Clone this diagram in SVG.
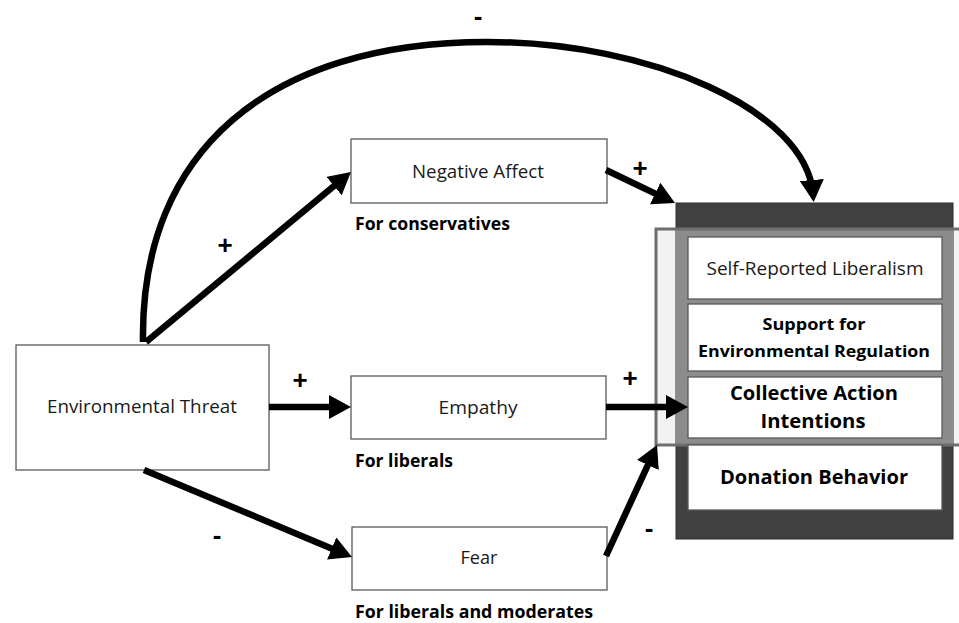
<svg xmlns="http://www.w3.org/2000/svg" width="959" height="623" viewBox="0 0 959 623">
  <style>
    .box { fill: #ffffff; stroke: #595959; stroke-width: 1.3; }
    .txt { font-family: "Open Sans", "Liberation Sans", sans-serif; font-size: 17.5px; fill: #1a1a1a; text-anchor: middle; }
    .bold { font-family: "Open Sans", "Liberation Sans", sans-serif; font-weight: bold; fill: #000; }
    .note { font-size: 17px; text-anchor: start; }
    .sign { font-family: "Liberation Sans", "Open Sans", sans-serif; font-weight: bold; font-size: 26px; fill: #000; text-anchor: middle; }
    .arrow { fill: none; stroke: #000; stroke-width: 6.5; marker-end: url(#head); }
  </style>
  <defs>
    <marker id="head" viewBox="0 0 22 24" refX="14" refY="12" markerWidth="22" markerHeight="24" markerUnits="userSpaceOnUse" orient="auto">
      <path d="M0,0 L22,12 L0,24 Z" fill="#000"/>
    </marker>
  </defs>
  <rect width="959" height="623" fill="#ffffff"/>

  <g id="outcomes">
    <rect x="656" y="229" width="306" height="216" fill="#f2f2f2"/>
    <rect x="676" y="203" width="277" height="336" fill="#404040" stroke="#2e2e2e" stroke-width="1"/>
    <rect x="676" y="229" width="277" height="216" fill="#8c8c8c"/>
    <rect x="656" y="229" width="306" height="216" fill="none" stroke="#6e6e6e" stroke-width="3"/>
    <g id="liberalism">
      <rect class="box" x="688" y="237" width="254" height="62"/>
      <text class="txt" x="815" y="275" textLength="217" lengthAdjust="spacingAndGlyphs">Self-Reported Liberalism</text>
    </g>
    <g id="regulation">
      <rect class="box" x="688" y="304" width="254" height="67"/>
      <text class="bold" x="814" y="330" font-size="16.5" text-anchor="middle" textLength="103" lengthAdjust="spacingAndGlyphs">Support for</text>
      <text class="bold" x="814" y="357" font-size="16.5" text-anchor="middle" textLength="232" lengthAdjust="spacingAndGlyphs">Environmental Regulation</text>
    </g>
    <g id="collective">
      <rect class="box" x="688" y="377" width="254" height="61"/>
      <text class="bold" x="814" y="400" font-size="20" text-anchor="middle" textLength="168" lengthAdjust="spacingAndGlyphs">Collective Action</text>
      <text class="bold" x="813" y="428" font-size="20" text-anchor="middle" textLength="105" lengthAdjust="spacingAndGlyphs">Intentions</text>
    </g>
    <g id="donation">
      <rect class="box" x="688" y="445" width="254" height="65"/>
      <text class="bold" x="814" y="484" font-size="20" text-anchor="middle" textLength="188" lengthAdjust="spacingAndGlyphs">Donation Behavior</text>
    </g>
  </g>

  <g id="threat">
    <rect class="box" x="16" y="345" width="253" height="125"/>
    <text class="txt" x="142" y="413" textLength="190" lengthAdjust="spacingAndGlyphs">Environmental Threat</text>
  </g>
  <g id="negative-affect">
    <rect class="box" x="351" y="139" width="256" height="64"/>
    <text class="txt" x="478" y="178" textLength="132" lengthAdjust="spacingAndGlyphs">Negative Affect</text>
    <text class="bold note" x="355" y="230" textLength="155" lengthAdjust="spacingAndGlyphs">For conservatives</text>
  </g>
  <g id="empathy">
    <rect class="box" x="351" y="376" width="255" height="63"/>
    <text class="txt" x="478" y="414" textLength="79" lengthAdjust="spacingAndGlyphs">Empathy</text>
    <text class="bold note" x="355" y="467" textLength="98" lengthAdjust="spacingAndGlyphs">For liberals</text>
  </g>
  <g id="fear">
    <rect class="box" x="352" y="527" width="255" height="63"/>
    <text class="txt" x="479" y="564" textLength="37" lengthAdjust="spacingAndGlyphs">Fear</text>
    <text class="bold note" x="355" y="618" textLength="238" lengthAdjust="spacingAndGlyphs">For liberals and moderates</text>
  </g>

  <g id="connectors">
    <path class="arrow" d="M143,342 C140,150 270,42 487,42 C650,42 806,110 813,194"/>
    <path class="arrow" d="M146,342 L344.8,177.1"/>
    <path class="arrow" d="M606,170 L667.8,199.6"/>
    <path class="arrow" d="M269,407 L343,407"/>
    <path class="arrow" d="M606,407 L680,407"/>
    <path class="arrow" d="M144,470 L344.6,553.9"/>
    <path class="arrow" d="M606,556 L653.7,452.3"/>
  </g>

  <g id="signs">
    <text class="sign" x="478" y="25">-</text>
    <text class="sign" x="225" y="254">+</text>
    <text class="sign" x="640" y="177">+</text>
    <text class="sign" x="300" y="389">+</text>
    <text class="sign" x="630" y="387">+</text>
    <text class="sign" x="217" y="544">-</text>
    <text class="sign" x="649" y="537">-</text>
  </g>
</svg>
